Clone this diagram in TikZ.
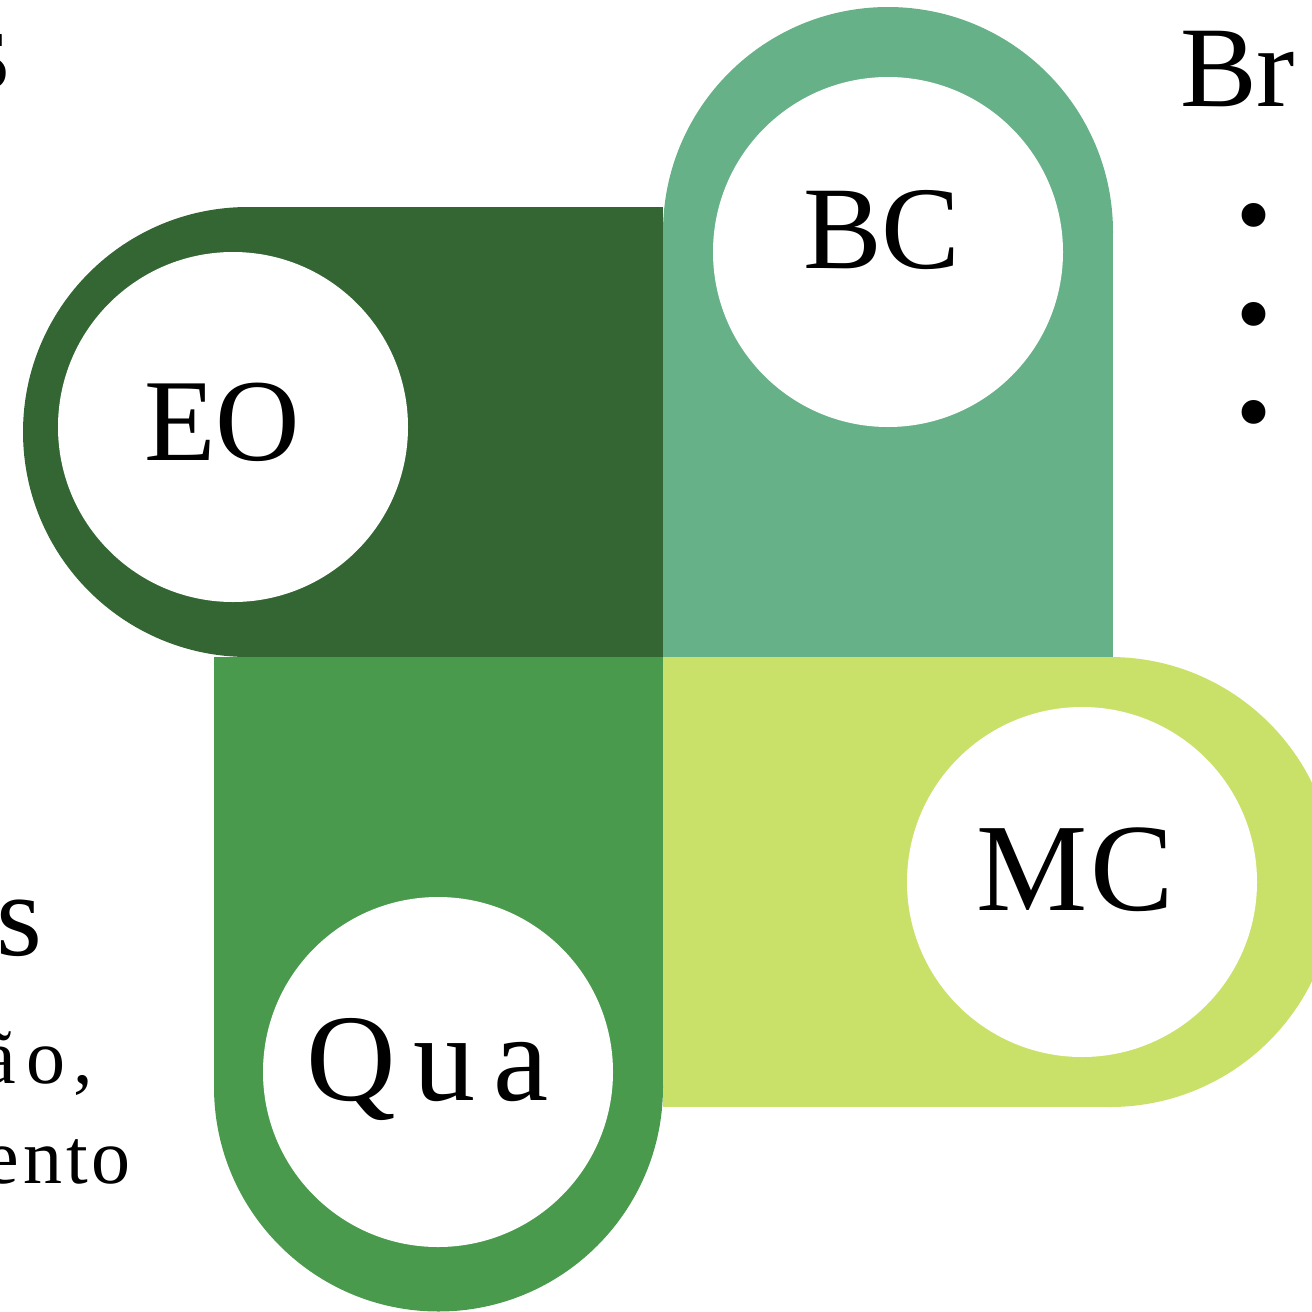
\documentclass[tikz,border=0pt]{standalone}
\usepackage{fontspec}
\setmainfont{Liberation Serif}
\definecolor{eocol}{HTML}{336633}
\definecolor{bccol}{HTML}{66B187}
\definecolor{mccol}{HTML}{C9E168}
\definecolor{qucol}{HTML}{4A9A4D}
\tikzset{
  hole/.style={circle, fill=white, inner sep=0pt, minimum size=350pt},
  bigtxt/.style={inner sep=0pt, font=\fontsize{#1}{#1}\selectfont},
  bul/.style={inner sep=0pt, font=\fontsize{100}{100}\selectfont}
}
\begin{document}
\begin{tikzpicture}[x=1pt,y=-1pt]
\useasboundingbox (0,0) rectangle (1312,1312);
% EO shape
\fill[eocol] (248,207) rectangle (663,657);
\fill[eocol] (248,432) circle[radius=225];
% BC shape
\fill[bccol] (663,232) rectangle (1113,657);
\fill[bccol] (888,232) circle[radius=225];
% MC shape
\fill[mccol] (663,657) rectangle (1110,1107);
\fill[mccol] (1110,882) circle[radius=225];
% Qua shape
\fill[qucol] (214,657) rectangle (663,1087);
\fill[qucol] (438.5,1087) circle[radius=224.5];
% white circles
\node[hole] (eoc) at (233,427) {};
\node[hole] (bcc) at (888,252) {};
\node[hole] (mcc) at (1082,882) {};
\node[hole] (quc) at (438,1072) {};
% labels
\node[bigtxt=117, anchor=base west] (eo) at (144,460) {EO};
\node[bigtxt=118, anchor=base west] (bc) at (803,268) {BC};
\node[bigtxt=125, anchor=base west] (mc) at (976,910) {M\kern3pt C};
\node[bigtxt=124, anchor=base west] (qu) at (306,1100) {Q\kern18pt u\kern18pt a};
% side texts
\node[bigtxt=115, anchor=base west] (br) at (1180,106) {Br};
\node[bul] (b1) at (1254,226) {•};
\node[bul] (b2) at (1254,325) {•};
\node[bul] (b3) at (1254,423) {•};
\node[bigtxt=118, anchor=base east] (s1) at (11,88) {s};
\node[bigtxt=118, anchor=base east] (s2) at (43,955) {s};
\node[bigtxt=78, anchor=base east] (t1) at (93,1083) {ã\kern10pt o\kern8pt ,};
\node[bigtxt=78, anchor=base east] (t2) at (131,1183) {e\kern4pt n\kern4pt t\kern4pt o};
\end{tikzpicture}
\end{document}
